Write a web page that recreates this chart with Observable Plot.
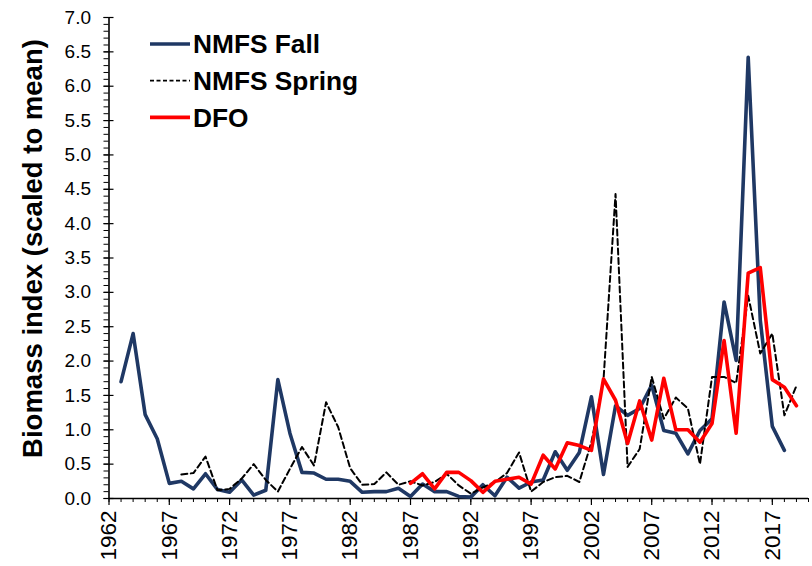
<!DOCTYPE html>
<html>
<head>
<meta charset="utf-8">
<script src="https://cdn.jsdelivr.net/npm/d3@7"></script>
<script src="https://cdn.jsdelivr.net/npm/@observablehq/plot@0.6"></script>
<style>
  html, body { margin: 0; padding: 0; background: #fff; }
  #chart { position: relative; width: 812px; height: 566px; }
</style>
</head>
<body>
<div id="chart"></div>
<script>
// ---- Data ----
const fallYears = d3.range(1963, 2019);
const fallValues = [
  1.70, 2.40, 1.22, 0.87, 0.22, 0.25, 0.14, 0.36, 0.13, 0.09,
  0.27, 0.05, 0.12, 1.73, 0.95, 0.38, 0.37, 0.28, 0.28, 0.25,
  0.09, 0.10, 0.10, 0.15, 0.03, 0.21, 0.10, 0.10, 0.03, 0.02,
  0.20, 0.04, 0.31, 0.15, 0.24, 0.27, 0.68, 0.41, 0.67, 1.48,
  0.35, 1.35, 1.21, 1.31, 1.65, 0.99, 0.95, 0.65, 0.99, 1.16,
  2.86, 2.01, 6.42, 2.60, 1.05, 0.70
];
const springYears = d3.range(1968, 2020);
const springValues = [
  0.35, 0.37, 0.61, 0.12, 0.14, 0.29, 0.50, 0.27, 0.10, 0.43,
  0.75, 0.48, 1.40, 1.04, 0.44, 0.20, 0.21, 0.38, 0.20, 0.25,
  0.19, 0.24, 0.36, 0.19, 0.07, 0.16, 0.24, 0.37, 0.67, 0.10,
  0.24, 0.31, 0.33, 0.24, 0.82, 1.72, 4.43, 0.46, 0.72, 1.77,
  1.16, 1.47, 1.31, 0.50, 1.77, 1.77, 1.68, 2.95, 2.11, 2.40,
  1.21, 1.64
];
const dfoYears = d3.range(1987, 2020);
const dfoValues = [
  0.22, 0.36, 0.14, 0.38, 0.38, 0.26, 0.09, 0.25, 0.28, 0.31,
  0.21, 0.63, 0.43, 0.81, 0.77, 0.70, 1.74, 1.43, 0.80, 1.42,
  0.85, 1.75, 1.00, 1.00, 0.82, 1.09, 2.30, 0.95, 3.28, 3.36,
  1.73, 1.62, 1.35
];
const seriesNames = ["NMFS Fall", "NMFS Spring", "DFO"];
const yMajorTicks = d3.range(0, 7.001, 0.5).map(v => +v.toFixed(1));
const yMinorTicks = d3.range(0, 71).map(i => i / 10);
const xMajorTicks = d3.range(1962, 2018, 5);
const xMinorTicks = d3.range(1962, 2021);
const yTitle = "Biomass index (scaled to mean)";

const fall = fallYears.map((year, i) => ({year, value: fallValues[i]}));
const spring = springYears.map((year, i) => ({year, value: springValues[i]}));
const dfo = dfoYears.map((year, i) => ({year, value: dfoValues[i]}));

const NAVY = "#1F3864";
const RED = "#FF0000";
const FONT = "'Liberation Sans', Arial, Helvetica, sans-serif";

const plot = Plot.plot({
  width: 812,
  height: 566,
  marginLeft: 108.5,
  marginRight: 4,
  marginTop: 17,
  marginBottom: 68,
  x: {domain: [1962, 2020]},
  y: {domain: [0, 7]},
  style: {fontFamily: FONT, fontSize: "19px", color: "#000", background: "#fff", overflow: "visible"},
  marks: [
    Plot.axisY(yMinorTicks, {tickSize: 5, text: null, label: null, stroke: "#000", strokeWidth: 1}),
    Plot.axisY(yMajorTicks, {tickSize: 5, tickPadding: 13, tickFormat: d3.format(".1f"), label: null, stroke: "#000", strokeWidth: 1.2}),
    Plot.axisY(yMajorTicks, {tickSize: -5, text: null, label: null, stroke: "#000", strokeWidth: 1.2}),
    Plot.axisX(xMinorTicks, {tickSize: 4, text: null, label: null, stroke: "#000", strokeWidth: 1}),
    Plot.axisX(xMajorTicks, {tickSize: 7, tickRotate: -90, tickPadding: 5, fontSize: 22.5, tickFormat: d => String(d), label: null, stroke: "#000", strokeWidth: 1.2}),
    Plot.ruleY([0], {stroke: "#000", strokeWidth: 1.6}),
    Plot.ruleX([1962], {stroke: "#000", strokeWidth: 1.6}),
    Plot.line(fall, {x: "year", y: "value", stroke: NAVY, strokeWidth: 3.6, strokeLinejoin: "round", strokeLinecap: "round"}),
    Plot.line(spring, {x: "year", y: "value", stroke: "#000", strokeWidth: 2, strokeDasharray: "6,3.5"}),
    Plot.line(dfo, {x: "year", y: "value", stroke: RED, strokeWidth: 3.6, strokeLinejoin: "round", strokeLinecap: "round"})
  ]
});

document.getElementById("chart").appendChild(plot);

const svg = d3.select(plot);

// Y-axis title
svg.append("text")
  .attr("transform", "translate(42,248.5) rotate(-90)")
  .attr("text-anchor", "middle")
  .attr("font-family", FONT)
  .attr("font-weight", "bold")
  .attr("font-size", "27.5px")
  .attr("fill", "#000")
  .text(yTitle);

// Legend
const legendStyles = [
  {stroke: NAVY, width: 3.6, dash: null},
  {stroke: "#000", width: 1.8, dash: "4,2.5"},
  {stroke: RED, width: 3.6, dash: null}
];
const legend = svg.append("g").attr("text-anchor", "start");
seriesNames.forEach((name, i) => {
  const cy = 44 + i * 36.7;
  legend.append("line")
    .attr("x1", 150).attr("x2", 190).attr("y1", cy).attr("y2", cy)
    .attr("stroke", legendStyles[i].stroke)
    .attr("stroke-width", legendStyles[i].width)
    .attr("stroke-dasharray", legendStyles[i].dash);
  legend.append("text")
    .attr("x", 193).attr("y", cy + 9.4)
    .attr("text-anchor", "start")
    .attr("font-family", FONT)
    .attr("font-weight", "bold")
    .attr("font-size", "26.3px")
    .attr("fill", "#000")
    .text(name);
});
</script>
</body>
</html>
